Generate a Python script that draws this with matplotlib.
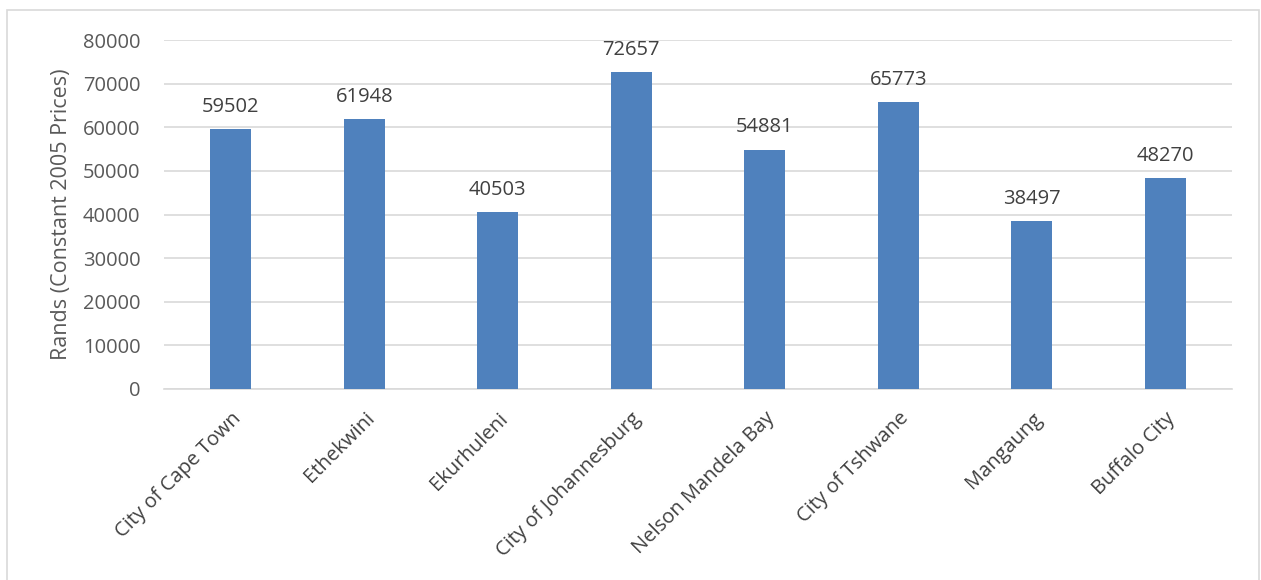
import matplotlib
matplotlib.use('Agg')
import matplotlib.pyplot as plt
from matplotlib.patches import Rectangle

cities = ['City of Cape Town', 'Ethekwini', 'Ekurhuleni', 'City of Johannesburg',
          'Nelson Mandela Bay', 'City of Tshwane', 'Mangaung', 'Buffalo City']
values = [59502, 61948, 40503, 72657, 54881, 65773, 38497, 48270]
yticks = [0, 10000, 20000, 30000, 40000, 50000, 60000, 70000, 80000]

plt.rcParams['font.family'] = ['Open Sans', 'DejaVu Sans']

W, H = 1261, 580
fig = plt.figure(figsize=(W / 100, H / 100), dpi=100)
ax = fig.add_axes([164 / W, 1 - 389 / H, (1232 - 164) / W, (389 - 40) / H])

x = range(len(cities))
bars = ax.bar(x, values, width=0.31, color='#4F81BD', zorder=3)
for xi, v in zip(x, values):
    ax.text(xi, v + 2800, str(v), ha='center', va='bottom', fontsize=14.5, color='#404040')

ax.set_xlim(-0.5, len(cities) - 0.5)
ax.set_ylim(0, 80000)
ax.set_yticks(yticks)
ax.set_yticklabels([str(t) for t in yticks], fontsize=14.5, color='#595959')
ax.yaxis.grid(True, color='#D9D9D9', linewidth=1.2, zorder=0)
ax.set_xticks(list(x))
ax.set_xticklabels(cities, rotation=45, ha='right', rotation_mode='anchor',
                   fontsize=14.5, color='#404040')
ax.tick_params(axis='both', length=0)
ax.tick_params(axis='y', pad=17)
ax.tick_params(axis='x', pad=14)
for s in ['top', 'right', 'left']:
    ax.spines[s].set_visible(False)
ax.spines['bottom'].set_color('#D9D9D9')
ax.spines['bottom'].set_linewidth(1.2)

ax.set_ylabel('Rands (Constant 2005 Prices)', fontsize=15.5, color='#595959', labelpad=8)

fig.patches.append(Rectangle((7 / W, -0.01), (1259 - 7) / W, 1 - 10 / H + 0.01,
                             transform=fig.transFigure, fill=False,
                             edgecolor='#D9D9D9', linewidth=1.2))

fig.savefig('out.png', dpi=100)
